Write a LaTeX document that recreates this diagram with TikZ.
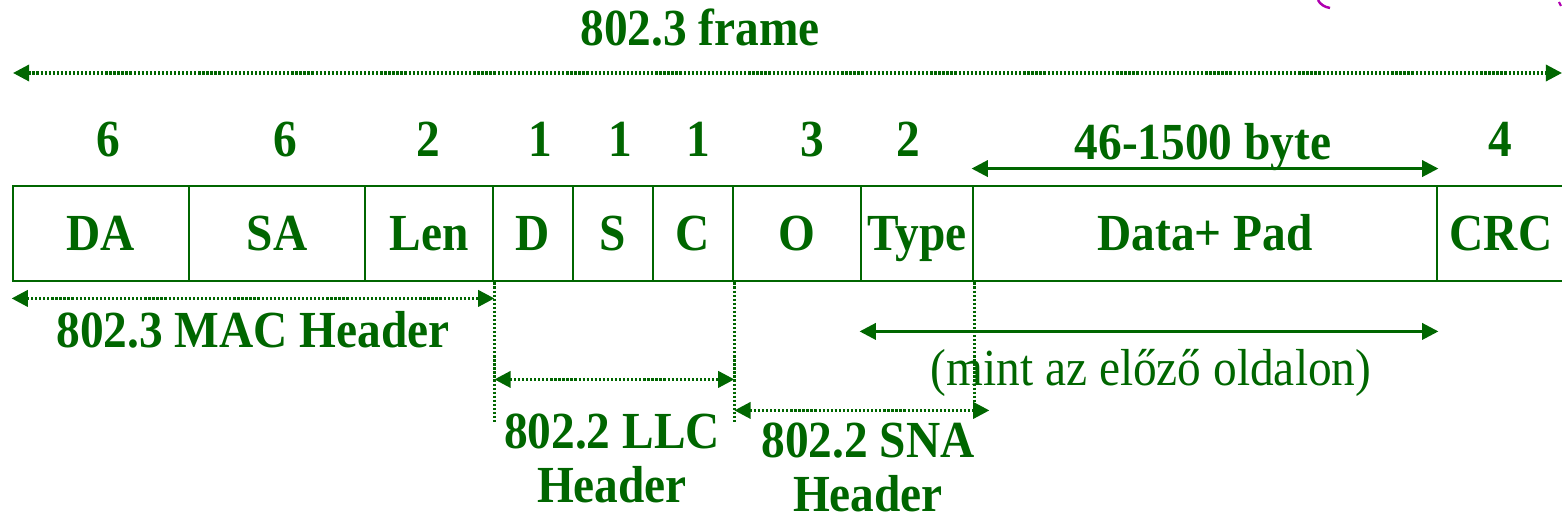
\documentclass[tikz,border=0pt]{standalone}
\usepackage{fontspec}
\setmainfont{Liberation Serif}[FakeStretch=0.91]
\usetikzlibrary{positioning,arrows.meta,calc}
\definecolor{ink}{HTML}{006600}
\definecolor{stray}{HTML}{B000B0}
\tikzset{
  lbl/.style={text=ink,font=\fontsize{14.8}{15.6}\selectfont\bfseries},
  note/.style={text=ink,font=\fontsize{14.8}{15.6}\selectfont},
  field/.style={draw=ink,line width=0.8pt,inner sep=0pt,lbl,text height=9.8pt,text depth=0pt},
  dots/.style={draw=ink,line width=0.9pt,dash pattern=on 0.65pt off 0.5pt},
  tip/.tip={Triangle[length=4.6pt,width=4.6pt]},
  span/.style={dots,tip-tip},
  solidspan/.style={draw=ink,line width=0.8pt,tip-tip}
}

\begin{document}
\begin{tikzpicture}[x=0.01cm,y=-0.01cm]
  \useasboundingbox (0,0) rectangle (1562,522);
  \foreach \nm/\xa/\xb/\txt in {da/13/189/DA,sa/189/365/SA,len/365/493/Len,dsap/493/573/D,ssap/573/653/S,
      ctl/653/733/C,oui/733/861/O,type/861/973/Type,data/973/1437/Data+ Pad,crc/1437/1565/CRC}
    \node[field,minimum width={(\xb-\xa)*0.01cm},minimum height=0.95cm]
      (\nm) at ({(\xa+\xb)/2},233.5) {\txt};
  \foreach \xc/\num in {108/6,285/6,428/2,540/1,620/1,698/1,812/3,908/2,1500/4}
    \node[lbl,anchor=base] (n\xc) at (\xc,157) {\num};
  % whole frame
  \coordinate (frameL) at (13,73);
  \coordinate (frameR) at (1562,73);
  \draw[span] (frameL) -- (frameR);
  \node[lbl,anchor=base] (title) at (700,46) {802.3 frame};
  \draw[solidspan] ($(data.north west)+(0,-16)$) -- ($(data.north east)+(0,-16)$);
  \node[lbl,anchor=base] (bytes) at (1203,160) {46-1500 byte};
  % headers below
  \draw[span] ($(da.south west)+(0,16)$) -- ($(len.south east)+(0,16)$);
  \node[lbl,anchor=base] (mac) at (253,348) {802.3 MAC Header};
  \coordinate (llcL) at ($(len.south east)+(0,141)$);
  \coordinate (llcR) at ($(ctl.south east)+(0,141)$);
  \coordinate (snaR) at ($(type.south east)+(0,132)$);
  \draw[dots] (len.south east) -- (llcL);
  \draw[dots] (ctl.south east) -- (llcR);
  \draw[dots] (type.south east) -- (snaR);
  \draw[span] ($(len.south east)+(0,97)$) -- ($(ctl.south east)+(0,97)$);
  \draw[span] ($(ctl.south east)+(0,128)$) -- ($(type.south east)+(15,128)$);
  \draw[solidspan] ($(type.south west)+(0,49)$) -- ($(data.south east)+(0,49)$);
  \node[note,anchor=base] (prev) at (1151,386) {(mint az előző oldalon)};
  \node[lbl,align=center,anchor=base] (llc) at (612,503) {802.2 LLC\\Header};
  \node[lbl,align=center,anchor=base,inner sep=0pt] (sna) at (868,512) {802.2 SNA\\Header};
  \draw[stray,line width=0.7pt] (1318,0) .. controls (1320,4) and (1324,7) .. (1330,8);
  \draw[stray,line width=0.6pt] (1559,2) -- (1561,6);
\end{tikzpicture}
\end{document}
